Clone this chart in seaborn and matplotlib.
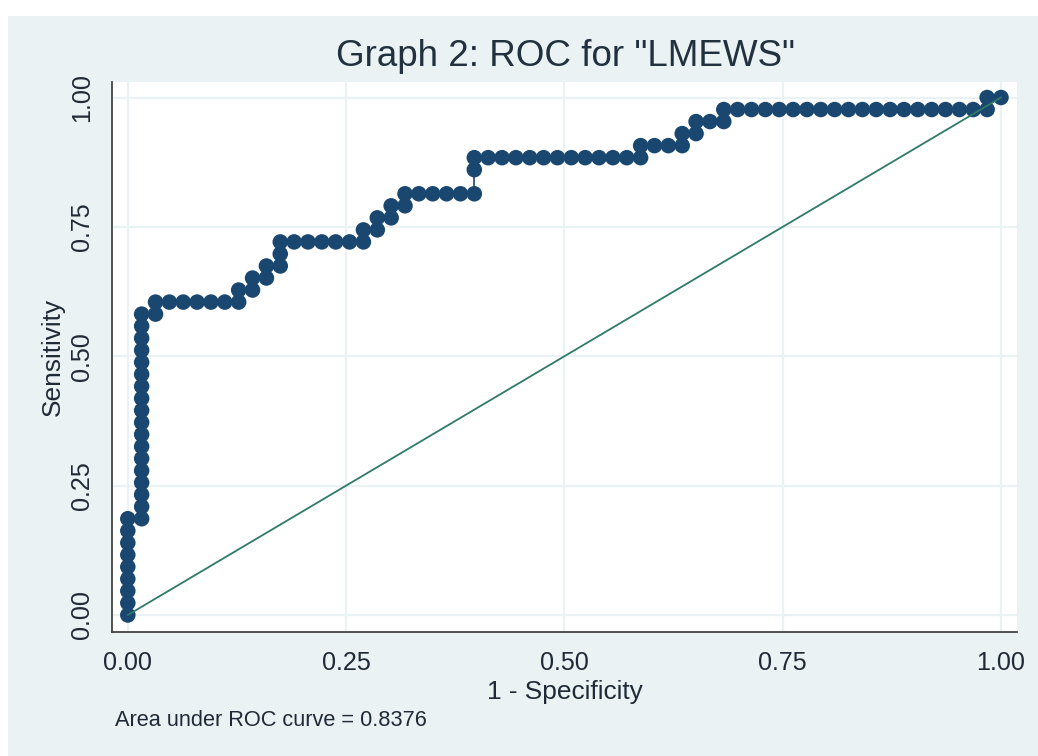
import numpy as np
import pandas as pd
import matplotlib
matplotlib.use('Agg')
import matplotlib.pyplot as plt
import seaborn as sns
from matplotlib import font_manager
from matplotlib.patches import Rectangle

# ==================== 数据 ====================
# 63 negatives, 43 positives; each point = (false positives, true positives)
n_neg = 63
n_pos = 43

fp_count = [
    0, 0, 0, 0, 0, 0, 0, 0, 0,
    1, 1, 1, 1, 1, 1, 1, 1, 1, 1, 1, 1, 1, 1, 1, 1, 1, 1,
    2, 2, 3, 4, 5, 6, 7, 8, 8, 9, 9, 10, 10, 11, 11, 11,
    12, 13, 14, 15, 16, 17, 17, 18, 18, 19, 19, 20, 20,
    21, 22, 23, 24, 25, 25, 25,
    26, 27, 28, 29, 30, 31, 32, 33, 34, 35, 36,
    37, 37, 38, 39, 40, 40, 41, 41, 42, 43, 43,
    44, 45, 46, 47, 48, 49, 50, 51, 52, 53, 54, 55, 56, 57, 58, 59, 60, 61,
    62, 62, 63,
]
tp_count = [
    0, 1, 2, 3, 4, 5, 6, 7, 8,
    8, 9, 10, 11, 12, 13, 14, 15, 16, 17, 18, 19, 20, 21, 22, 23, 24, 25,
    25, 26, 26, 26, 26, 26, 26, 26, 27, 27, 28, 28, 29, 29, 30, 31,
    31, 31, 31, 31, 31, 31, 32, 32, 33, 33, 34, 34, 35,
    35, 35, 35, 35, 35, 37, 38,
    38, 38, 38, 38, 38, 38, 38, 38, 38, 38, 38,
    38, 39, 39, 39, 39, 40, 40, 41, 41, 41, 42,
    42, 42, 42, 42, 42, 42, 42, 42, 42, 42, 42, 42, 42, 42, 42, 42, 42, 42,
    42, 43, 43,
]

ref_x = [0.0, 1.0]
ref_y = [0.0, 1.0]
ticks = [0.0, 0.25, 0.50, 0.75, 1.00]
tick_labels = ['0.00', '0.25', '0.50', '0.75', '1.00']
auc_text = 'Area under ROC curve = 0.8376'

roc = pd.DataFrame({
    'fpr': np.array(fp_count) / n_neg,
    'tpr': np.array(tp_count) / n_pos,
})

# ==================== 样式 ====================
sns.set_style('white')
names = {f.name for f in font_manager.fontManager.ttflist}
if 'Liberation Sans Narrow' in names:
    fam = ['Liberation Sans Narrow', 'Liberation Sans', 'DejaVu Sans']
    k = 1.0
else:
    fam = ['Liberation Sans', 'DejaVu Sans']
    k = 0.86
plt.rcParams['font.family'] = fam

bg = '#eaf2f3'
navy = '#1a476f'
green = '#2f7a68'
txt = '#1f2a36'

fig = plt.figure(figsize=(10.38, 7.56), dpi=100)
fig.patch.set_facecolor(bg)
# white strip at the top / left edge of the page crop
fig.patches.append(Rectangle((0, 1 - 16 / 756), 1, 16 / 756, transform=fig.transFigure,
                             facecolor='white', edgecolor='none', zorder=0))
fig.patches.append(Rectangle((0, 0), 8 / 1038, 1, transform=fig.transFigure,
                             facecolor='white', edgecolor='none', zorder=0))

ax = fig.add_axes([112 / 1038, 1 - 632 / 756, (1017 - 112) / 1038, (632 - 82) / 756])
ax.set_facecolor('white')

# ==================== 绘图 ====================
sns.lineplot(data=roc, x='fpr', y='tpr', sort=False, estimator=None,
             color=navy, linewidth=1.2, ax=ax, zorder=3)
sns.scatterplot(data=roc, x='fpr', y='tpr', color=navy, s=125,
                edgecolor='none', linewidth=0, ax=ax, zorder=4)
sns.lineplot(x=ref_x, y=ref_y, color=green, linewidth=1.3, ax=ax, zorder=5)

ax.set_xlim(-15.8 / 873, 1 + 16 / 873)
ax.set_ylim(-17 / 517.5, 1 + 15.5 / 517.5)

ax.set_xticks(ticks)
ax.set_xticklabels(tick_labels)
ax.set_yticks(ticks)
ax.set_yticklabels(tick_labels, rotation=90, va='center')

ax.grid(True, color=bg, linewidth=1.6)
ax.set_axisbelow(True)
for side in ['top', 'right']:
    ax.spines[side].set_visible(False)
for side in ['left', 'bottom']:
    ax.spines[side].set_color('#444444')
    ax.spines[side].set_linewidth(1.3)

ax.tick_params(axis='both', direction='out', length=6, width=1.2, color='#444444',
               labelsize=21 * k, labelcolor=txt)
ax.tick_params(axis='x', pad=8)
ax.tick_params(axis='y', pad=7)

ax.set_xlabel('1 - Specificity', fontsize=22 * k, color=txt, labelpad=3)
ax.set_ylabel('Sensitivity', fontsize=22 * k, color=txt, labelpad=4)

fig.text(565 / 1038, 1 - 56 / 756, 'Graph 2: ROC for "LMEWS"', ha='center', va='center',
         fontsize=30.8 * k, color='#22313f')
fig.text(115 / 1038, 1 - 720 / 756, auc_text, ha='left', va='center',
         fontsize=18.2 * k, color=txt)

fig.savefig('out.png', dpi=100, facecolor=fig.get_facecolor())
